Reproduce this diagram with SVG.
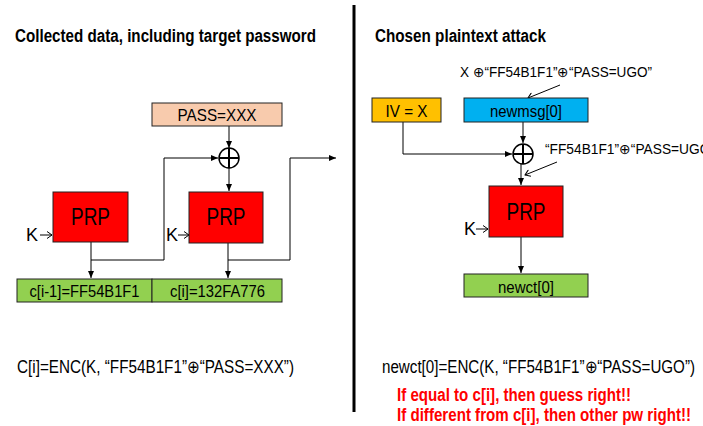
<svg xmlns="http://www.w3.org/2000/svg" width="703" height="426" viewBox="0 0 703 426">
<style>
text{font-family:"Liberation Sans Narrow","Arial Narrow","Liberation Sans",Arial,sans-serif;fill:#000}
.t{font-size:18px;font-weight:bold}
.b{font-size:17px}
.s{font-size:14px}
.k{font-size:19px}
.p{font-size:24px}
.r{font-size:18px;font-weight:bold;fill:#FF0000}
.box{stroke:#222;stroke-width:1}
.ln{stroke:#000;stroke-width:1;fill:none}
</style>
<defs>
<marker id="ah" markerWidth="8" markerHeight="8" refX="7" refY="4" orient="auto" markerUnits="userSpaceOnUse">
<path d="M0,1 L7,4 L0,7 Z" fill="#000"/>
</marker>
<marker id="oa" markerWidth="8" markerHeight="8" refX="6" refY="4" orient="auto" markerUnits="userSpaceOnUse">
<path d="M1,0.5 L6,4 L1,7.5" fill="none" stroke="#000" stroke-width="1"/>
</marker>
</defs>
<rect x="0" y="0" width="703" height="426" fill="#fff"/>
<line x1="354" y1="5" x2="354" y2="412" stroke="#000" stroke-width="3"/>
<text class="t" x="15" y="42" textLength="301" lengthAdjust="spacingAndGlyphs">Collected data, including target password</text>
<text class="t" x="375" y="42" textLength="171" lengthAdjust="spacingAndGlyphs">Chosen plaintext attack</text>

<g id="connectors">
<path class="ln" d="M229,126 V148" marker-end="url(#ah)"/>
<path class="ln" d="M229,168 V191" marker-end="url(#ah)"/>
<path class="ln" d="M91,242 V278" marker-end="url(#ah)"/>
<path class="ln" d="M91,260 H164 V158 H218" marker-end="url(#ah)"/>
<path class="ln" d="M228,243 V278" marker-end="url(#ah)"/>
<path class="ln" d="M228,260 H290 V158 H336" marker-end="url(#ah)"/>
<path class="ln" d="M40,235 H52" marker-end="url(#oa)"/>
<path class="ln" d="M178,235 H189" marker-end="url(#oa)"/>
<path class="ln" d="M403,122 V154 H512" marker-end="url(#ah)"/>
<path class="ln" d="M523,122 V143" marker-end="url(#ah)"/>
<path class="ln" d="M521,164 V185" marker-end="url(#ah)"/>
<path class="ln" d="M521,237 V273" marker-end="url(#ah)"/>
<path class="ln" d="M476,229 H488" marker-end="url(#oa)"/>
<path class="ln" d="M560,85 L528,98" marker-end="url(#oa)"/>
<path class="ln" d="M557,162 L525,175" marker-end="url(#oa)"/>
</g>

<g id="pass">
<rect class="box" x="152" y="103" width="130" height="23" fill="#F8CBAD"/>
<text class="b" x="217" y="121" text-anchor="middle" textLength="79" lengthAdjust="spacingAndGlyphs">PASS=XXX</text>
</g>
<g id="xor1">
<circle cx="229" cy="158" r="10" fill="#fff" stroke="#000" stroke-width="1.5"/>
<path d="M219,158 H239 M229,148 V168" stroke="#000" stroke-width="2"/>
</g>
<g id="prp1">
<rect class="box" x="53" y="192" width="75" height="50" fill="#FF0000"/>
<text class="p" x="90.5" y="225" text-anchor="middle" textLength="39" lengthAdjust="spacingAndGlyphs">PRP</text>
<text class="k" x="26" y="241" textLength="12" lengthAdjust="spacingAndGlyphs">K</text>
</g>
<g id="prp2">
<rect class="box" x="189" y="192" width="74" height="51" fill="#FF0000"/>
<text class="p" x="226" y="225" text-anchor="middle" textLength="39" lengthAdjust="spacingAndGlyphs">PRP</text>
<text class="k" x="166" y="241" textLength="12" lengthAdjust="spacingAndGlyphs">K</text>
</g>
<g id="c1">
<rect class="box" x="17" y="279" width="135" height="23" fill="#92D050"/>
<text class="b" x="84.5" y="297" text-anchor="middle" textLength="110" lengthAdjust="spacingAndGlyphs">c[i-1]=FF54B1F1</text>
</g>
<g id="c2">
<rect class="box" x="152" y="279" width="130" height="23" fill="#92D050"/>
<text class="b" x="217.5" y="297" text-anchor="middle" textLength="95" lengthAdjust="spacingAndGlyphs">c[i]=132FA776</text>
</g>
<text class="t" style="font-weight:normal" x="17" y="373" textLength="277" lengthAdjust="spacingAndGlyphs">C[i]=ENC(K, “FF54B1F1”⊕“PASS=XXX”)</text>

<g id="iv">
<rect class="box" x="372" y="98" width="69" height="24" fill="#FFC000"/>
<text class="b" x="406.5" y="117" text-anchor="middle" textLength="42" lengthAdjust="spacingAndGlyphs">IV = X</text>
</g>
<g id="newmsg">
<rect class="box" x="464" y="98" width="124" height="24" fill="#00B0F0"/>
<text class="b" x="526" y="117" text-anchor="middle" textLength="72" lengthAdjust="spacingAndGlyphs">newmsg[0]</text>
</g>
<text class="s" x="460" y="77" textLength="192" lengthAdjust="spacingAndGlyphs">X ⊕“FF54B1F1”⊕“PASS=UGO”</text>
<g id="xor2">
<circle cx="523" cy="154" r="10" fill="#fff" stroke="#000" stroke-width="1.5"/>
<path d="M513,154 H533 M523,144 V164" stroke="#000" stroke-width="2"/>
</g>
<text class="s" x="545" y="154" textLength="170" lengthAdjust="spacingAndGlyphs">“FF54B1F1”⊕“PASS=UGO”</text>
<g id="prp3">
<rect class="box" x="489" y="186" width="74" height="51" fill="#FF0000"/>
<text class="p" x="526" y="220" text-anchor="middle" textLength="39" lengthAdjust="spacingAndGlyphs">PRP</text>
<text class="k" x="464" y="235" textLength="12" lengthAdjust="spacingAndGlyphs">K</text>
</g>
<g id="newct">
<rect class="box" x="464" y="274" width="124" height="23" fill="#92D050"/>
<text class="b" x="526" y="293" text-anchor="middle" textLength="56" lengthAdjust="spacingAndGlyphs">newct[0]</text>
</g>
<text class="t" style="font-weight:normal" x="382" y="373" textLength="313" lengthAdjust="spacingAndGlyphs">newct[0]=ENC(K, “FF54B1F1”⊕“PASS=UGO”)</text>
<text class="r" x="397" y="401" textLength="234" lengthAdjust="spacingAndGlyphs">If equal to c[i], then guess right!!</text>
<text class="r" x="397" y="421" textLength="294" lengthAdjust="spacingAndGlyphs">If different from c[i], then other pw right!!</text>
</svg>
